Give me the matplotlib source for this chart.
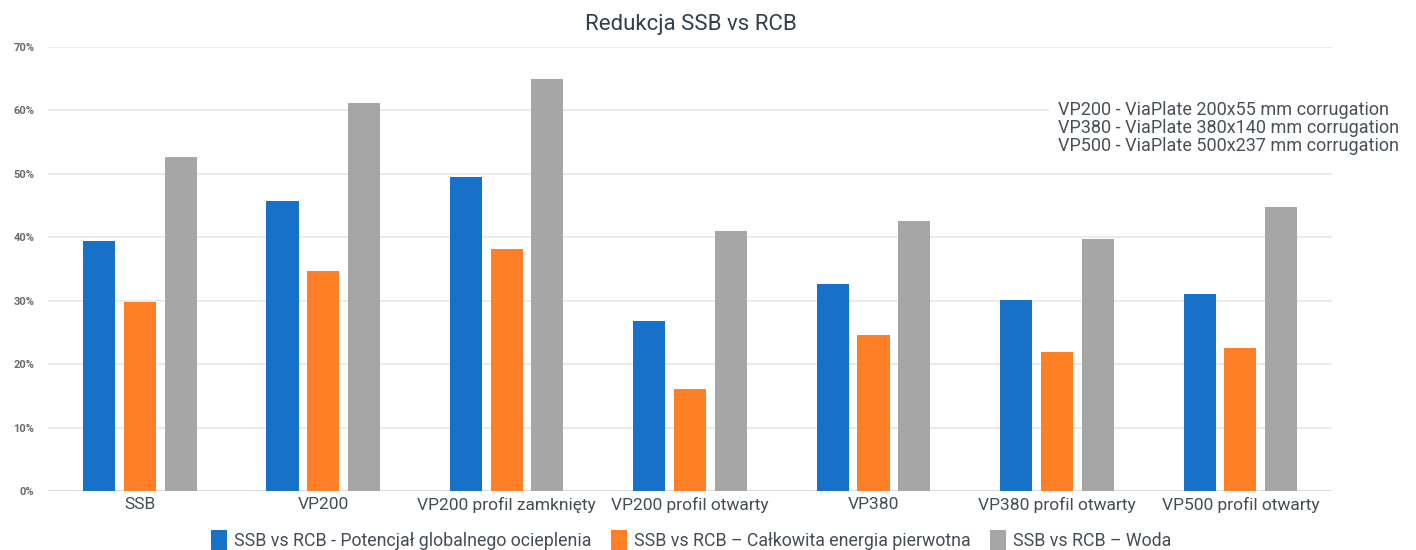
import matplotlib
matplotlib.use("Agg")
import matplotlib.pyplot as plt
import numpy as np
from matplotlib.ticker import PercentFormatter

plt.rcParams['font.family'] = ['Roboto', 'DejaVu Sans']

categories = ["SSB", "VP200", "VP200 profil zamknięty", "VP200 profil otwarty",
              "VP380", "VP380 profil otwarty", "VP500 profil otwarty"]
gwp = [39.5, 45.8, 49.5, 26.8, 32.6, 30.1, 31.1]
energy = [29.8, 34.7, 38.1, 16.1, 24.6, 22.0, 22.6]
water = [52.7, 61.2, 65.0, 41.0, 42.6, 39.7, 44.8]
series_names = ["SSB vs RCB - Potencjał globalnego ocieplenia",
                "SSB vs RCB – Całkowita energia pierwotna",
                "SSB vs RCB – Woda"]
colors = ["#1771c8", "#fe7f26", "#a6a6a6"]
note_lines = ["VP200 - ViaPlate 200x55 mm corrugation",
              "VP380 - ViaPlate 380x140 mm corrugation",
              "VP500 - ViaPlate 500x237 mm corrugation"]

fig = plt.figure(figsize=(14.16, 5.5), dpi=100)
ax = fig.add_axes([0.034, 0.107, 0.9067, 0.8075])

x = np.arange(len(categories))
w = 0.175
step = 0.222
for i, (vals, c, n) in enumerate(zip([gwp, energy, water], colors, series_names)):
    ax.bar(x + (i - 1) * step, vals, width=w, color=c, label=n, zorder=3)

ax.set_xlim(-0.5, len(categories) - 0.5)
ax.set_ylim(0, 70)
ax.set_yticks(np.arange(0, 71, 10))
ax.yaxis.set_major_formatter(PercentFormatter(decimals=0))
ax.grid(axis='y', color='#e8e8e8', linewidth=1.2, zorder=0)
ax.axhline(0, color='#d9d9d9', linewidth=1.2, zorder=2)
for s in ax.spines.values():
    s.set_visible(False)
ax.tick_params(axis='y', length=0, labelsize=8, labelcolor='#6b6b6b', pad=10)
for lbl in ax.get_yticklabels():
    lbl.set_fontweight('bold')
ax.set_xticks(x)
ax.set_xticklabels(categories, fontsize=12.5, color='#454c56')
ax.tick_params(axis='x', length=0, pad=4)

fig.text(0.488, 0.955, "Redukcja SSB vs RCB", ha='center', va='center',
         fontsize=16, color='#333f4f')
fig.text(0.747, 0.768, "\n".join(note_lines), ha='left', va='center',
         fontsize=13, color='#4a5059', linespacing=1.0, zorder=5,
         bbox=dict(facecolor='white', edgecolor='none', pad=6))

fig.legend(loc='center', bbox_to_anchor=(0.488, 0.018), ncol=3, frameon=False,
           fontsize=12.8, handlelength=0.9, handleheight=1.3, handletextpad=0.4,
           columnspacing=1.1, labelcolor='#454c56')

fig.savefig("out.png", dpi=100)
